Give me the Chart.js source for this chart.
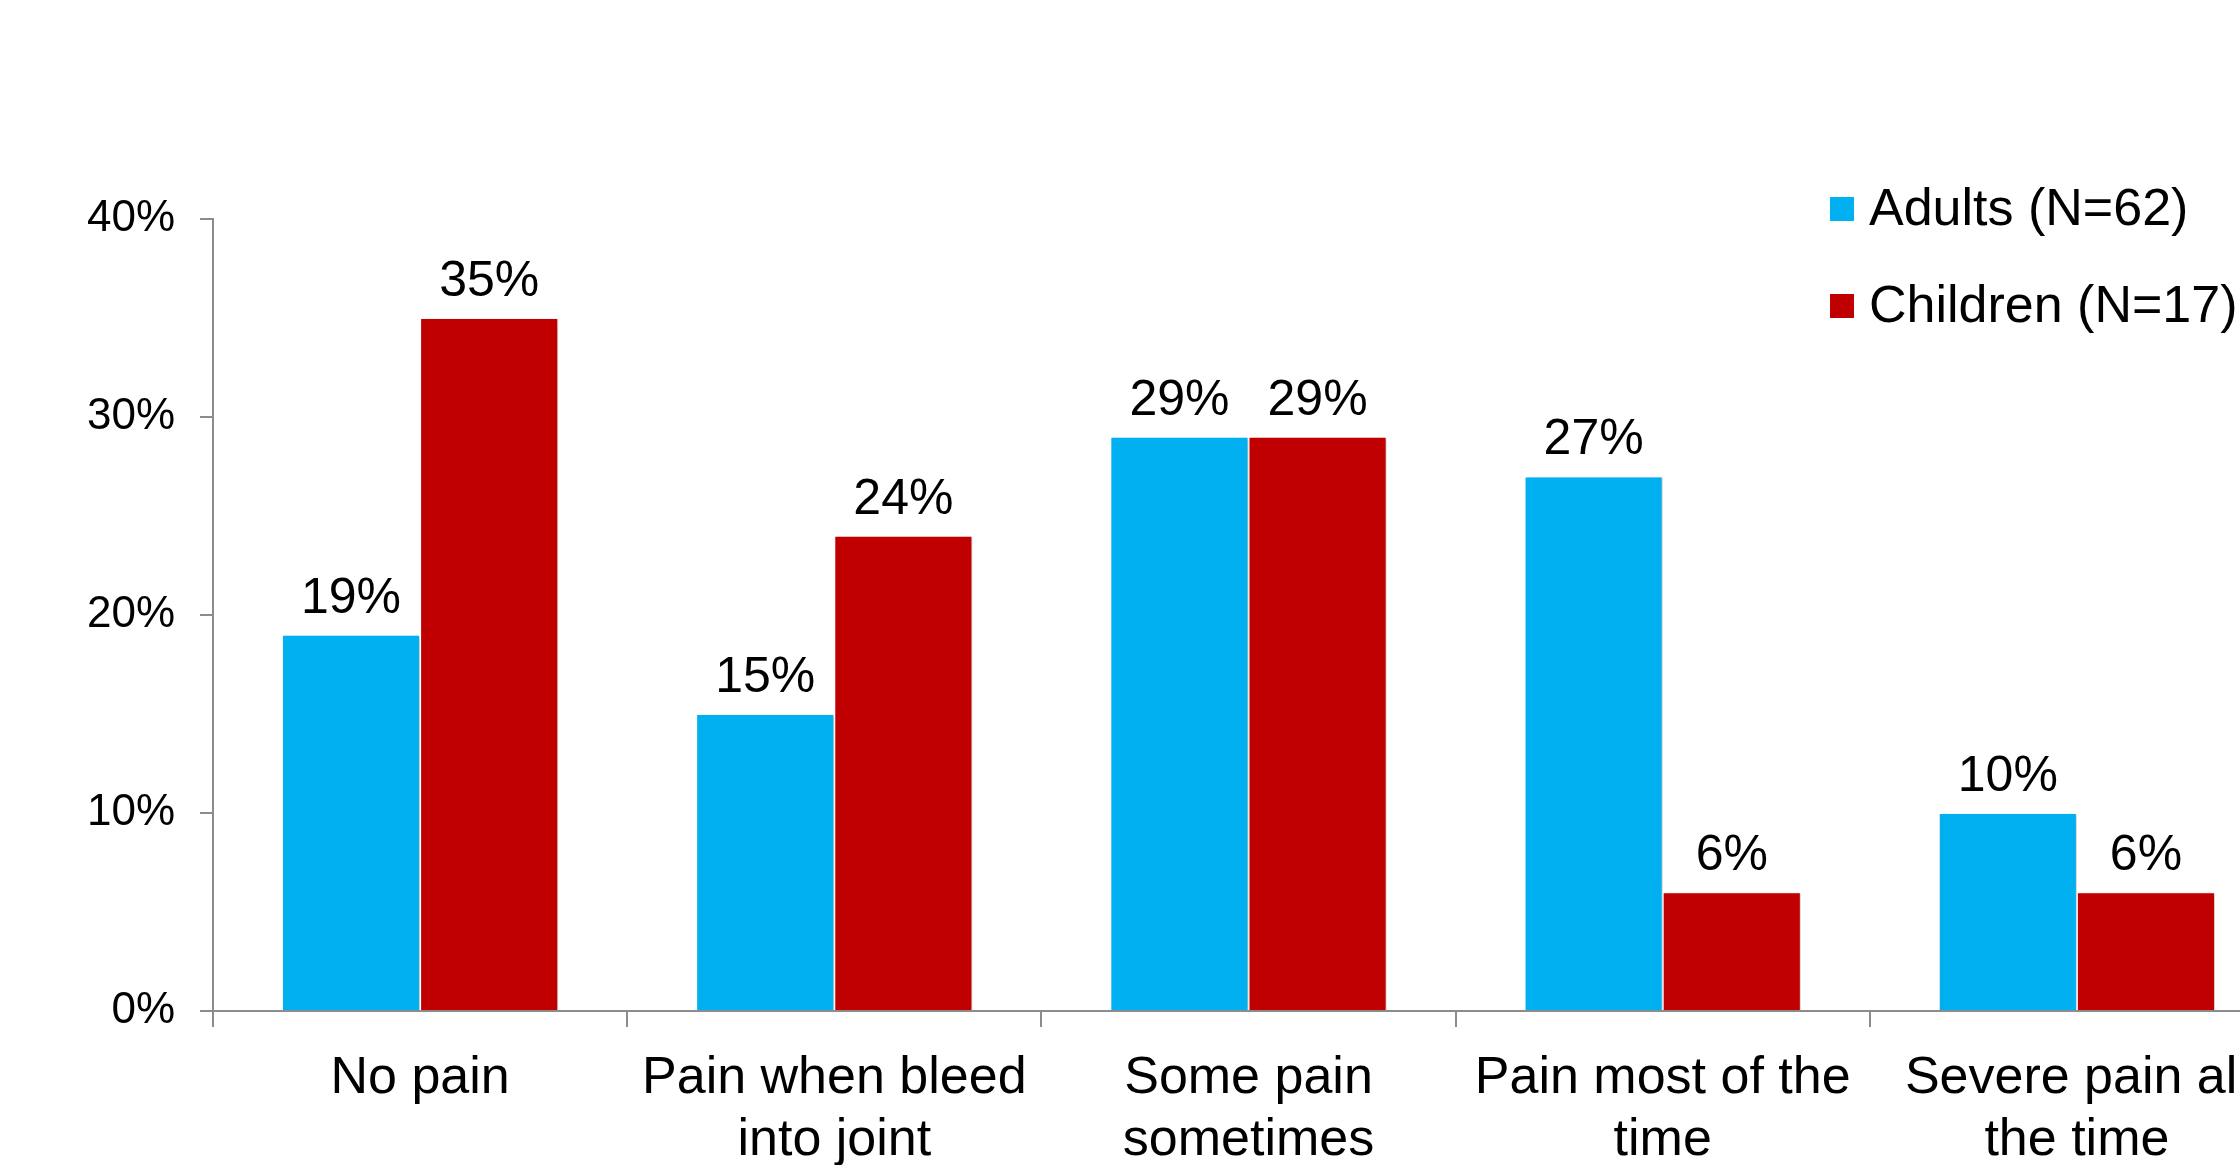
<!DOCTYPE html>
<html>
<head>
<meta charset="utf-8">
<script src="https://cdn.jsdelivr.net/npm/chart.js@4"></script>
<style>
  html, body { margin: 0; padding: 0; background: #fff; overflow: hidden; }
  #wrap { width: 2300px; height: 1165px; }
</style>
</head>
<body>
<div id="wrap"><canvas id="painChart" width="2300" height="1165"></canvas></div>
<script>
const categories = [
  ['No pain'],
  ['Pain when bleed', 'into joint'],
  ['Some pain', 'sometimes'],
  ['Pain most of the', 'time'],
  ['Severe pain all', 'the time']
];
const adults = [19, 15, 29, 27, 10];
const children = [35, 24, 29, 6, 6];
const seriesNames = ['Adults (N=62)', 'Children (N=17)'];
const yTicks = [0, 10, 20, 30, 40];

const FONT = "'Liberation Sans', Arial, sans-serif";
const AXIS_GREY = '#8c8c8c';

// soft drop shadow behind the bars
const barShadow = {
  id: 'barShadow',
  beforeDatasetsDraw(chart) {
    const ctx = chart.ctx;
    ctx.save();
    ctx.shadowColor = 'rgba(0,0,0,0.22)';
    ctx.shadowBlur = 3;
    ctx.shadowOffsetX = 2;
    ctx.shadowOffsetY = 1;
  },
  afterDatasetsDraw(chart) {
    chart.ctx.restore();
  }
};

// percentage above every bar
const valueLabels = {
  id: 'valueLabels',
  afterDraw(chart) {
    const ctx = chart.ctx;
    ctx.save();
    ctx.font = `50px ${FONT}`;
    ctx.fillStyle = '#000';
    ctx.textAlign = 'center';
    ctx.textBaseline = 'alphabetic';
    chart.data.datasets.forEach((ds, i) => {
      chart.getDatasetMeta(i).data.forEach((bar, j) => {
        ctx.fillText(ds.data[j] + '%', bar.x, bar.y - 22);
      });
    });
    ctx.restore();
  }
};

// legend in the upper right corner, over the plot
const cornerLegend = {
  id: 'cornerLegend',
  afterDraw(chart) {
    const ctx = chart.ctx;
    ctx.save();
    ctx.font = `52px ${FONT}`;
    ctx.textBaseline = 'middle';
    chart.data.datasets.forEach((ds, i) => {
      const cy = 209 + i * 97;
      ctx.fillStyle = ds.backgroundColor;
      ctx.fillRect(1830, cy - 12, 24, 24);
      ctx.fillStyle = '#000';
      ctx.fillText(ds.label, 1869, cy + 2);
    });
    ctx.restore();
  }
};

new Chart(document.getElementById('painChart'), {
  type: 'bar',
  data: {
    labels: categories,
    datasets: [
      { label: seriesNames[0], data: adults, backgroundColor: '#00b0f0' },
      { label: seriesNames[1], data: children, backgroundColor: '#c00000' }
    ]
  },
  options: {
    responsive: false,
    animation: false,
    categoryPercentage: 0.667,
    barPercentage: 1.0,
    borderColor: '#ffffff',
    borderWidth: 1,
    borderSkipped: 'bottom',
    layout: { padding: { top: 219, right: 16, left: 0, bottom: 0 } },
    plugins: {
      legend: { display: false },
      tooltip: { enabled: false }
    },
    scales: {
      x: {
        grid: {
          offset: true,
          drawOnChartArea: false,
          drawTicks: true,
          tickLength: 16,
          color: AXIS_GREY,
          lineWidth: 2
        },
        border: { display: true, color: AXIS_GREY, width: 2 },
        ticks: {
          color: '#000',
          font: { family: FONT, size: 52, lineHeight: 1.2 },
          padding: 20,
          maxRotation: 0,
          minRotation: 0,
          autoSkip: false
        },
        afterFit(scale) { scale.height = 154; }
      },
      y: {
        min: 0,
        max: 40,
        afterBuildTicks(scale) {
          scale.ticks = yTicks.map(v => ({ value: v }));
        },
        grid: {
          drawOnChartArea: false,
          drawTicks: true,
          tickLength: 13,
          color: AXIS_GREY,
          lineWidth: 2
        },
        border: { display: true, color: AXIS_GREY, width: 2 },
        ticks: {
          color: '#000',
          font: { family: FONT, size: 44 },
          padding: 25,
          callback: v => v + '%'
        },
        afterFit(scale) { scale.width = 213; }
      }
    }
  },
  plugins: [barShadow, valueLabels, cornerLegend]
});
</script>
</body>
</html>
